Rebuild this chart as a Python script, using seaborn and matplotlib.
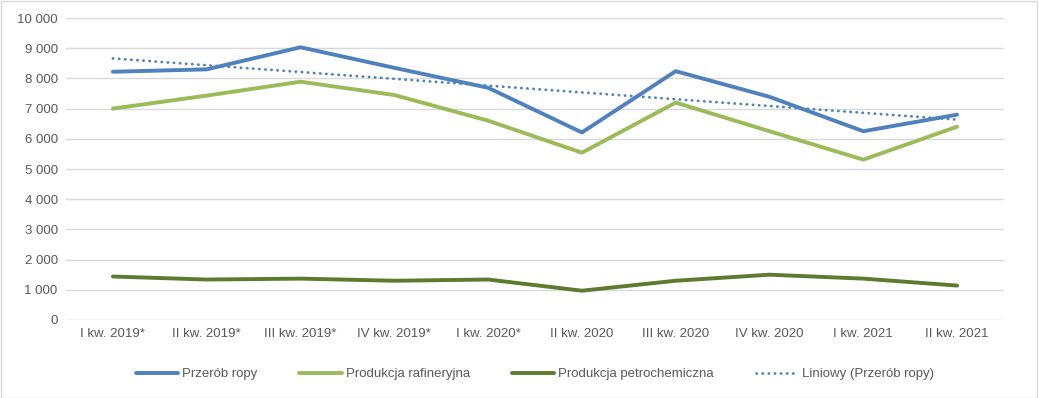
import matplotlib
matplotlib.use("Agg")
import matplotlib.pyplot as plt
import matplotlib.ticker as mticker
import seaborn as sns
import numpy as np
import pandas as pd

quarters = ['I kw. 2019*', 'II kw. 2019*', 'III kw. 2019*', 'IV kw. 2019*', 'I kw. 2020*',
            'II kw. 2020', 'III kw. 2020', 'IV kw. 2020', 'I kw. 2021', 'II kw. 2021']
przerob_ropy = [8220, 8300, 9030, 8350, 7690, 6210, 8240, 7390, 6250, 6800]
produkcja_rafineryjna = [7000, 7430, 7890, 7450, 6600, 5540, 7200, 6250, 5310, 6400]
produkcja_petrochemiczna = [1440, 1340, 1370, 1300, 1340, 970, 1300, 1500, 1370, 1140]

sns.set_style('white')
plt.rcParams['font.family'] = ['Liberation Sans', 'DejaVu Sans']

fig = plt.figure(figsize=(10.39, 3.98), dpi=100)
ax = fig.add_axes([66 / 1039, 1 - 320 / 398, (1004 - 66) / 1039, (320 - 18) / 398])

x = np.arange(len(quarters))
df = pd.DataFrame({'x': x, 'przerob': przerob_ropy, 'raf': produkcja_rafineryjna,
                   'petro': produkcja_petrochemiczna})

# Excel-style linear trendline for crude processing
coef = np.polyfit(x, przerob_ropy, 1)
df['trend'] = np.polyval(coef, x)

lw = 2.8
sns.lineplot(data=df, x='x', y='przerob', color='#4F81BD', linewidth=lw, ax=ax,
             label='Przerób ropy', solid_capstyle='round')
sns.lineplot(data=df, x='x', y='raf', color='#9BBB59', linewidth=lw, ax=ax,
             label='Produkcja rafineryjna', solid_capstyle='round')
sns.lineplot(data=df, x='x', y='petro', color='#5E7A2E', linewidth=lw, ax=ax,
             label='Produkcja petrochemiczna', solid_capstyle='round')
sns.lineplot(data=df, x='x', y='trend', color='#4F81BD', linewidth=2.0, ax=ax,
             linestyle=(0, (0.1, 2.1)), dash_capstyle='round',
             label='Liniowy (Przerób ropy)')

ax.set_xlim(-0.5, len(quarters) - 0.5)
ax.set_ylim(0, 10000)
ax.set_yticks(range(0, 10001, 1000))
ax.yaxis.set_major_formatter(mticker.FuncFormatter(lambda v, p: f'{int(v):,}'.replace(',', ' ')))
ax.set_xticks(x)
ax.set_xticklabels(quarters)
ax.tick_params(axis='both', labelsize=9.5, colors='#595959', length=0, pad=6)
ax.set_xlabel('')
ax.set_ylabel('')
ax.grid(axis='y', color='#D9D9D9', linewidth=1)
ax.set_axisbelow(True)
for s in ax.spines.values():
    s.set_visible(False)

leg = ax.legend(loc='upper center', bbox_to_anchor=(0.5, -0.12), ncol=4, frameon=False,
                fontsize=9.5, handlelength=3.2, handletextpad=0.3, columnspacing=3.2)
for t in leg.get_texts():
    t.set_color('#595959')

# light frame around the whole chart area
fig.patches.append(plt.Rectangle((0.001, 0.001), 0.997, 0.997, transform=fig.transFigure,
                                 fill=False, edgecolor='#D9D9D9', linewidth=1))

fig.savefig('out.png', dpi=100)
